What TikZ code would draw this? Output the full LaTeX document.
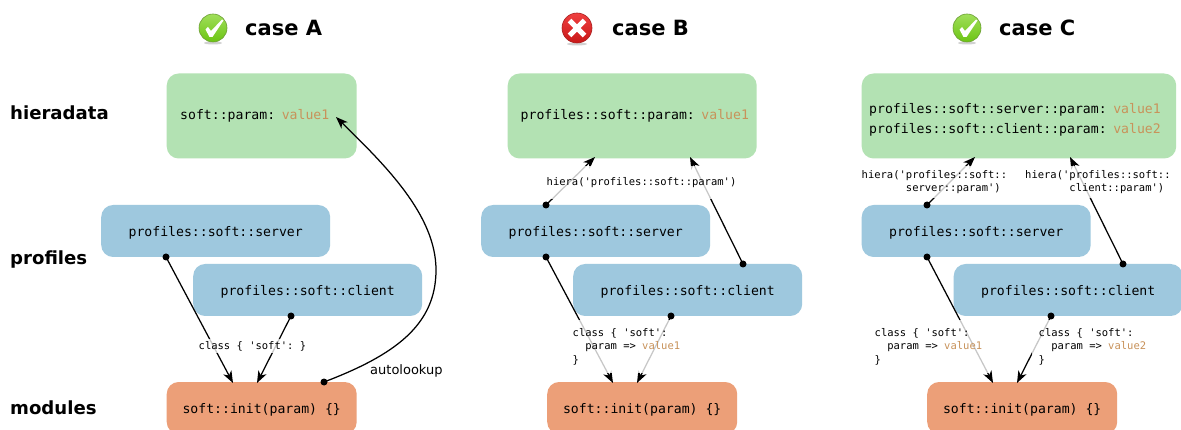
\documentclass[tikz,border=0pt]{standalone}
\usepackage{fontspec}
\setmainfont{DejaVu Sans}
\setmonofont{DejaVu Sans Mono}
\usetikzlibrary{arrows.meta,positioning}
\definecolor{hgreen}{HTML}{B3E2B3}
\definecolor{pblue}{HTML}{9EC8DE}
\definecolor{morange}{HTML}{EC9F78}
\definecolor{valcol}{HTML}{C8925A}
\definecolor{oktop}{HTML}{A0DF5A}
\definecolor{okbot}{HTML}{6CC414}
\definecolor{okedge}{HTML}{6C9E34}
\definecolor{badtop}{HTML}{F04040}
\definecolor{badbot}{HTML}{C81818}
\definecolor{badedge}{HTML}{A82020}
\newcommand{\val}[1]{\textcolor{valcol}{#1}}
\newcommand{\monotxt}{\ttfamily\fontsize{13.15}{20}\selectfont}
\newcommand{\smalltxt}{\ttfamily\fontsize{10.5}{13.4}\selectfont}
\newcommand{\okmark}[1]{\fill[white,shift={(#1,0)}] (205.5,29.5) -- (208,27) -- (211,31) -- (222,19.5) -- (223.5,20.5) -- (212.5,37) -- (209.5,37) -- cycle;}
\tikzset{
  x=1pt,y=-1pt,
  box/.style={rounded corners=12pt,inner ysep=0pt,anchor=west,font=\monotxt},
  hierabox/.style={box,fill=hgreen,minimum height=85pt,inner xsep=0pt,align=left},
  oneline/.style={text height=11pt,text depth=0pt},
  hieraline/.style={text height=8pt,text depth=0pt},
  profbox/.style={box,oneline,fill=pblue,minimum width=229pt,minimum height=52pt},
  initbox/.style={box,oneline,fill=morange,minimum width=190pt,minimum height=52pt},
  sidelabel/.style={anchor=west,inner sep=0pt,font=\bfseries\fontsize{18.1}{20}\selectfont},
  casetitle/.style={anchor=west,inner sep=0pt,font=\bfseries\fontsize{21}{24}\selectfont},
  dotnode/.style={circle,fill=black,inner sep=0pt,minimum size=7pt},
  conn/.style={draw=black,line width=1.25pt,-{Stealth[length=12pt,width=9pt,inset=3.5pt]}},
  lab/.style={anchor=west,font=\smalltxt,align=left,inner xsep=7pt,fill=white,fill opacity=0.78,text opacity=1},
  singlelab/.style={lab,inner ysep=2pt},
  widelab/.style={lab,inner ysep=11pt},
  hieralab/.style={lab,inner ysep=4pt},
  classlab/.style={lab,inner ysep=8pt},
  okicon/.style={circle,minimum size=28pt,inner sep=0pt,draw=okedge,line width=0.6pt,top color=oktop,bottom color=okbot},
  badicon/.style={circle,minimum size=30pt,inner sep=0pt,draw=badedge,line width=0.6pt,top color=badtop,bottom color=badbot},
  iconshadow/.style={fill=black!18,draw=none},
}
\begin{document}
\begin{tikzpicture}
\path[use as bounding box,clip] (0,0) rectangle (1181,430);
\fill[white] (0,0) rectangle (1181,430);

% side labels
\node[sidelabel] (lhiera) at (10,113) {hieradata};
\node[sidelabel] (lprof) at (10,259.5) {profiles};
\node[sidelabel] (lmod) at (10,408) {modules};

% icons and titles
\fill[iconshadow] (213,43) ellipse (9 and 1.5);
\node[okicon] (iconA) at (213,28) {};
\okmark{0}
\node[casetitle] (titleA) at (245,28) {case A};

\fill[iconshadow] (577,44) ellipse (10 and 1.5);
\node[badicon] (iconB) at (577,28) {};
\draw[white,line width=5pt] (569.5,20.5) -- (584.5,35.5) (584.5,20.5) -- (569.5,35.5);
\node[casetitle] (titleB) at (612,28) {case B};

\fill[iconshadow] (967,43) ellipse (9 and 1.5);
\node[okicon] (iconC) at (967,28) {};
\okmark{754}
\node[casetitle] (titleC) at (999,28) {case C};

% case A boxes
\node[hierabox,hieraline,text width=190pt] (Ah) at (166.5,116) {\hspace*{13.5pt}soft::param: \val{value1}};
\node[profbox] (As) at (101,231) {profiles::soft::server};
\node[profbox] (Ac) at (193,290) {profiles::soft::client};
\node[initbox] (Ai) at (166.5,408) {soft::init(param) \{\}};

% case B boxes
\node[hierabox,hieraline,text width=249pt] (Bh) at (507.5,116) {\hspace*{13pt}profiles::soft::param: \val{value1}};
\node[profbox] (Bs) at (481,231) {profiles::soft::server};
\node[profbox] (Bc) at (573,290) {profiles::soft::client};
\node[initbox] (Bi) at (547,408) {soft::init(param) \{\}};

% case C boxes
\node[hierabox,text width=314.5pt] (Ch) at (861.5,116) {\rule{0pt}{18pt}\hspace*{7.5pt}profiles::soft::server::param: \val{value1}\\[0pt]\hspace*{7.5pt}profiles::soft::client::param: \val{value2}};
\node[profbox] (Cs) at (861.5,231) {profiles::soft::server};
\node[profbox] (Cc) at (953.5,290) {profiles::soft::client};
\node[initbox] (Ci) at (927,408) {soft::init(param) \{\}};

% connector start dots
\node[dotnode] (dAs) at (166,257) {};
\node[dotnode] (dAc) at (291,316) {};
\node[dotnode] (dAi) at (324,382) {};
\node[dotnode] (dBsu) at (546,205) {};
\node[dotnode] (dBcu) at (743,264) {};
\node[dotnode] (dBs) at (546,257) {};
\node[dotnode] (dBc) at (671,316) {};
\node[dotnode] (dCsu) at (927,205) {};
\node[dotnode] (dCcu) at (1123,264) {};
\node[dotnode] (dCs) at (927,257) {};
\node[dotnode] (dCc) at (1051,316) {};

% connector ends
\coordinate (eAi1) at (233,383);
\coordinate (eAi2) at (257,383);
\coordinate (eAh) at (336,117);
\coordinate (eBh1) at (595,157);
\coordinate (eBh2) at (690,157);
\coordinate (eBi1) at (613,383);
\coordinate (eBi2) at (637,383);
\coordinate (eCh1) at (975,157);
\coordinate (eCh2) at (1070,157);
\coordinate (eCi1) at (993,383);
\coordinate (eCi2) at (1017,383);

% connectors
\draw[conn] (dAs.center) -- (eAi1);
\draw[conn] (dAc.center) -- (eAi2);
\draw[conn] (dAi.center) .. controls (395,355) and (436,325) .. (436,270) .. controls (436,215) and (385,165) .. (eAh);
\draw[conn] (dBsu.center) -- (eBh1);
\draw[conn] (dBcu.center) -- (eBh2);
\draw[conn] (dBs.center) -- (eBi1);
\draw[conn] (dBc.center) -- (eBi2);
\draw[conn] (dCsu.center) -- (eCh1);
\draw[conn] (dCcu.center) -- (eCh2);
\draw[conn] (dCs.center) -- (eCi1);
\draw[conn] (dCc.center) -- (eCi2);

% connector labels
\node[singlelab] (lA) at (191.5,346) {class \{ 'soft': \}};
\node[anchor=west,inner sep=0pt,font=\fontsize{13}{14}\selectfont] (lauto) at (370,371) {autolookup};
\node[widelab] (lB1) at (539.5,182.5) {hiera('profiles::soft::param')};
\node[classlab] (lB2) at (565.5,346.5) {class \{ 'soft':\\\ \ param => \val{value1}\\\}};
\node[hieralab] (lC1) at (854.5,182) {hiera('profiles::soft::\\\ \ \ \ \ \ \ server::param')};
\node[hieralab] (lC2) at (1018,182) {hiera('profiles::soft::\\\ \ \ \ \ \ \ client::param')};
\node[classlab] (lC3) at (867.5,346.5) {class \{ 'soft':\\\ \ param => \val{value1}\\\}};
\node[classlab] (lC4) at (1031.5,346.5) {class \{ 'soft':\\\ \ param => \val{value2}\\\}};
\end{tikzpicture}
\end{document}
